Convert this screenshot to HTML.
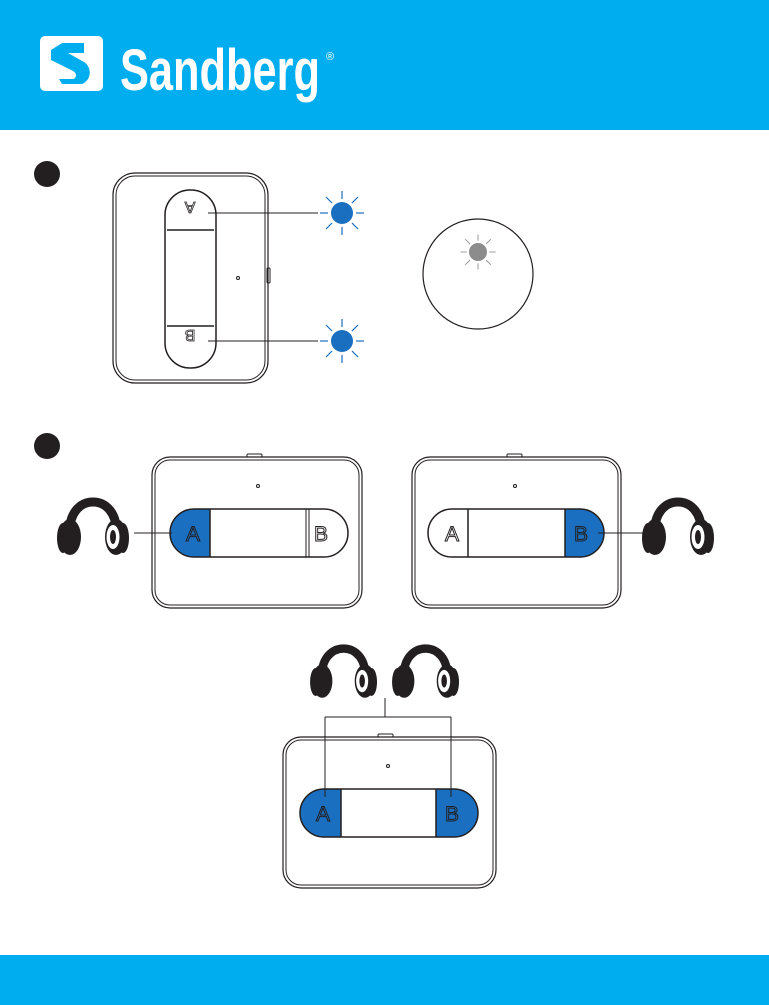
<!DOCTYPE html>
<html><head><meta charset="utf-8"><style>
html,body{margin:0;padding:0;background:#fff;}
svg{display:block;}
</style></head><body>
<svg width="769" height="1005" viewBox="0 0 769 1005" xmlns="http://www.w3.org/2000/svg" font-family="Liberation Sans, sans-serif">
<defs>
<g id="hp">
  <path d="M12,40 C8,-4 62,-4 58,40" fill="none" stroke="#231f20" stroke-width="9"/>
  <ellipse cx="12" cy="42" rx="11" ry="18" fill="#231f20"/>
  <ellipse cx="5" cy="43" rx="6" ry="15" fill="#231f20"/>
  <ellipse cx="58" cy="42" rx="11" ry="18" fill="#231f20"/>
  <ellipse cx="65" cy="43" rx="6" ry="15" fill="#231f20"/>
  <ellipse cx="55" cy="42" rx="6.5" ry="12" fill="#fff"/>
  <ellipse cx="55" cy="42" rx="3" ry="7" fill="#231f20"/>
</g>
<g id="rays" stroke-width="1.2">
  <line x1="0" y1="-14" x2="0" y2="-22"/><line x1="0" y1="14" x2="0" y2="22"/>
  <line x1="-14" y1="0" x2="-22" y2="0"/><line x1="14" y1="0" x2="22" y2="0"/>
  <line x1="-10" y1="-10" x2="-16" y2="-16"/><line x1="10" y1="-10" x2="16" y2="-16"/>
  <line x1="-10" y1="10" x2="-16" y2="16"/><line x1="10" y1="10" x2="16" y2="16"/>
</g>
</defs>
<rect x="0" y="0" width="769" height="130" fill="#00aeef"/>
<rect x="40" y="36" width="63" height="55" rx="5" fill="#fff"/>
<path d="M62,43 h22 v10 h-16 l16,9 c8,5 8,18 -2,22 h-20 l-3,-5 h14 c4,-1 4,-6 0,-8 l-22,-11 v-10 z" fill="#00aeef"/>
<text x="120" y="90" fill="#fff" font-size="58" font-weight="bold" font-family="Liberation Sans Narrow, Liberation Sans, sans-serif" textLength="200" lengthAdjust="spacingAndGlyphs">Sandberg</text>
<text x="326" y="60" fill="#fff" font-size="11">®</text>
<rect x="0" y="955" width="769" height="50" fill="#00aeef"/>
<circle cx="47" cy="174" r="13" fill="#231f20"/>
<circle cx="47" cy="446" r="13" fill="#231f20"/>
<g fill="none" stroke="#231f20">
<rect x="113" y="173" width="155" height="210" rx="22" stroke-width="1.2"/>
<rect x="116" y="176" width="149" height="204" rx="19" stroke-width="1"/>
<rect x="165" y="190" width="51" height="178" rx="25" stroke-width="1.5"/>
<line x1="167" y1="230" x2="214" y2="230" stroke-width="1.5"/>
<line x1="167" y1="326" x2="214" y2="326" stroke-width="1.5"/>
<line x1="208" y1="213" x2="318" y2="213"/>
<line x1="208" y1="341" x2="318" y2="341"/>
<circle cx="238" cy="278" r="1.5"/>
<rect x="267" y="268" width="3" height="15" rx="1"/>
</g>
<text x="190" y="214" font-size="16" fill="#fff" stroke="#231f20" stroke-width="0.8" text-anchor="middle" transform="rotate(180 190 208)">A</text>
<text x="190" y="342" font-size="16" fill="#fff" stroke="#231f20" stroke-width="0.8" text-anchor="middle" transform="rotate(180 190 336)">B</text>
<circle cx="342" cy="213" r="11" fill="#1a6fc0"/>
<use href="#rays" x="342" y="213" stroke="#1a6fc0"/>
<circle cx="342" cy="341" r="11" fill="#1a6fc0"/>
<use href="#rays" x="342" y="341" stroke="#1a6fc0"/>
<circle cx="478" cy="274" r="55" fill="none" stroke="#231f20" stroke-width="1.2"/>
<circle cx="478" cy="252" r="9" fill="#8c8c8c"/>
<g transform="translate(478 252) scale(0.8)"><use href="#rays" stroke="#999"/></g>
<g fill="none" stroke="#231f20">
<rect x="152" y="457" width="210" height="151" rx="18" stroke-width="1.2"/>
<rect x="155" y="460" width="204" height="145" rx="15"/>
<rect x="247" y="454" width="15" height="3" rx="1"/>
<circle cx="258" cy="486" r="1.5"/>
</g>
<path d="M210,509 H194 A24,24 0 0 0 194,557 H210 Z" fill="#1a6fc0"/>
<g fill="none" stroke="#231f20" stroke-width="1.5">
<rect x="170" y="509" width="178" height="48" rx="24"/>
<line x1="210" y1="509" x2="210" y2="557"/>
<line x1="306" y1="509" x2="306" y2="557" stroke-width="1"/><line x1="309" y1="509" x2="309" y2="557" stroke-width="1"/>
<line x1="134" y1="533" x2="172" y2="533" stroke-width="1"/>
</g>
<text x="193" y="541" font-size="21" fill="none" stroke="#231f20" stroke-width="1" text-anchor="middle">A</text>
<text x="321" y="541" font-size="21" fill="none" stroke="#231f20" stroke-width="1" text-anchor="middle">B</text>
<use href="#hp" x="58" y="495"/>
<g fill="none" stroke="#231f20">
<rect x="412" y="457" width="209" height="151" rx="18" stroke-width="1.2"/>
<rect x="415" y="460" width="203" height="145" rx="15"/>
<rect x="507" y="454" width="15" height="3" rx="1"/>
<circle cx="515" cy="486" r="1.5"/>
</g>
<path d="M565,509 H580 A24,24 0 0 1 580,557 H565 Z" fill="#1a6fc0"/>
<g fill="none" stroke="#231f20" stroke-width="1.5">
<rect x="428" y="509" width="176" height="48" rx="24"/>
<line x1="468" y1="509" x2="468" y2="557"/>
<line x1="565" y1="509" x2="565" y2="557"/>
<line x1="598" y1="533" x2="643" y2="533" stroke-width="1"/>
</g>
<text x="452" y="541" font-size="21" fill="none" stroke="#231f20" stroke-width="1" text-anchor="middle">A</text>
<text x="581" y="541" font-size="21" fill="none" stroke="#231f20" stroke-width="1" text-anchor="middle">B</text>
<use href="#hp" x="643" y="495"/>
<g transform="translate(311 642) scale(0.93)"><use href="#hp"/></g>
<g transform="translate(393 642) scale(0.93)"><use href="#hp"/></g>
<g fill="none" stroke="#231f20">
<rect x="283" y="737" width="213" height="151" rx="18" stroke-width="1.2"/>
<rect x="286" y="740" width="207" height="145" rx="15"/>
<rect x="378" y="734" width="15" height="3" rx="1"/>
<circle cx="388" cy="766" r="1.5"/>
</g>
<path d="M341,789 H324 A24,24 0 0 0 324,837 H341 Z" fill="#1a6fc0"/>
<path d="M436,789 H454 A24,24 0 0 1 454,837 H436 Z" fill="#1a6fc0"/>
<g fill="none" stroke="#231f20" stroke-width="1.5">
<rect x="300" y="789" width="178" height="48" rx="24"/>
<line x1="341" y1="789" x2="341" y2="837"/>
<line x1="436" y1="789" x2="436" y2="837"/>
</g>
<g fill="none" stroke="#231f20" stroke-width="1">
<line x1="385" y1="698" x2="385" y2="717"/>
<line x1="325" y1="717" x2="451" y2="717"/>
<line x1="325" y1="717" x2="325" y2="797"/>
<line x1="451" y1="717" x2="451" y2="797"/>
</g>
<text x="323" y="821" font-size="21" fill="none" stroke="#231f20" stroke-width="1" text-anchor="middle">A</text>
<text x="452" y="821" font-size="21" fill="none" stroke="#231f20" stroke-width="1" text-anchor="middle">B</text>
</svg>
</body></html>
